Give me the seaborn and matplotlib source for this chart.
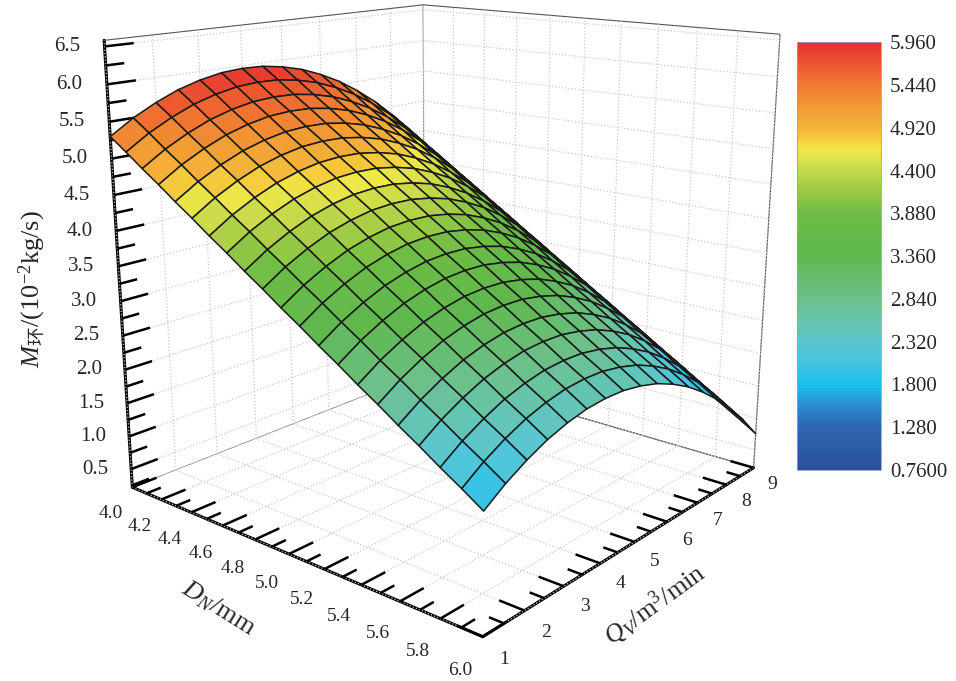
import numpy as np
import matplotlib
matplotlib.use("Agg")
import matplotlib.pyplot as plt
import seaborn as sns
from matplotlib.colors import LinearSegmentedColormap, Normalize
from matplotlib.ticker import FixedLocator, NullFormatter
from mpl_toolkits.mplot3d import proj3d

# --- data ---
d_n = [4.0, 4.1, 4.2, 4.3, 4.4, 4.5, 4.6, 4.7, 4.8, 4.9, 5.0,
       5.1, 5.2, 5.3, 5.4, 5.5, 5.6, 5.7, 5.8, 5.9, 6.0]
q_v = [1.0, 1.5, 2.0, 2.5, 3.0, 3.5, 4.0, 4.5, 5.0,
       5.5, 6.0, 6.5, 7.0, 7.5, 8.0, 8.5, 9.0]
# rows follow d_n, columns follow q_v
m_huan = [
    [5.30, 5.50, 5.66, 5.79, 5.88, 5.94, 5.96, 5.95, 5.90, 5.82, 5.70, 5.55, 5.36, 5.14, 4.88, 4.59, 4.26],
    [5.13, 5.33, 5.49, 5.62, 5.71, 5.77, 5.79, 5.78, 5.73, 5.65, 5.53, 5.38, 5.19, 4.97, 4.71, 4.42, 4.09],
    [4.95, 5.15, 5.31, 5.44, 5.53, 5.59, 5.61, 5.60, 5.55, 5.47, 5.35, 5.20, 5.01, 4.79, 4.53, 4.24, 3.91],
    [4.78, 4.98, 5.14, 5.27, 5.36, 5.42, 5.44, 5.43, 5.38, 5.30, 5.18, 5.03, 4.84, 4.62, 4.36, 4.07, 3.74],
    [4.60, 4.80, 4.96, 5.09, 5.18, 5.24, 5.26, 5.25, 5.20, 5.12, 5.00, 4.85, 4.66, 4.44, 4.18, 3.89, 3.56],
    [4.43, 4.63, 4.79, 4.92, 5.01, 5.07, 5.09, 5.08, 5.03, 4.95, 4.83, 4.68, 4.49, 4.27, 4.01, 3.72, 3.39],
    [4.25, 4.45, 4.61, 4.74, 4.83, 4.89, 4.91, 4.90, 4.85, 4.77, 4.65, 4.50, 4.31, 4.09, 3.83, 3.54, 3.21],
    [4.08, 4.28, 4.44, 4.57, 4.66, 4.72, 4.74, 4.73, 4.68, 4.60, 4.48, 4.33, 4.14, 3.92, 3.66, 3.37, 3.04],
    [3.90, 4.10, 4.26, 4.39, 4.48, 4.54, 4.56, 4.55, 4.50, 4.42, 4.30, 4.15, 3.96, 3.74, 3.48, 3.19, 2.86],
    [3.73, 3.93, 4.09, 4.22, 4.31, 4.37, 4.39, 4.38, 4.33, 4.25, 4.13, 3.98, 3.79, 3.57, 3.31, 3.02, 2.69],
    [3.55, 3.75, 3.91, 4.04, 4.13, 4.19, 4.21, 4.20, 4.15, 4.07, 3.95, 3.80, 3.61, 3.39, 3.13, 2.84, 2.51],
    [3.38, 3.58, 3.74, 3.87, 3.96, 4.02, 4.04, 4.03, 3.98, 3.90, 3.78, 3.63, 3.44, 3.22, 2.96, 2.67, 2.34],
    [3.20, 3.40, 3.56, 3.69, 3.78, 3.84, 3.86, 3.85, 3.80, 3.72, 3.60, 3.45, 3.26, 3.04, 2.78, 2.49, 2.16],
    [3.03, 3.23, 3.39, 3.52, 3.61, 3.67, 3.69, 3.68, 3.63, 3.55, 3.43, 3.28, 3.09, 2.87, 2.61, 2.32, 1.99],
    [2.85, 3.05, 3.21, 3.34, 3.43, 3.49, 3.51, 3.50, 3.45, 3.37, 3.25, 3.10, 2.91, 2.69, 2.43, 2.14, 1.81],
    [2.68, 2.88, 3.04, 3.17, 3.26, 3.32, 3.34, 3.33, 3.28, 3.20, 3.08, 2.93, 2.74, 2.52, 2.26, 1.97, 1.64],
    [2.50, 2.70, 2.86, 2.99, 3.08, 3.14, 3.16, 3.15, 3.10, 3.02, 2.90, 2.75, 2.56, 2.34, 2.08, 1.79, 1.46],
    [2.33, 2.53, 2.69, 2.82, 2.91, 2.97, 2.99, 2.98, 2.93, 2.85, 2.73, 2.58, 2.39, 2.17, 1.91, 1.62, 1.29],
    [2.15, 2.35, 2.51, 2.64, 2.73, 2.79, 2.81, 2.80, 2.75, 2.67, 2.55, 2.40, 2.21, 1.99, 1.73, 1.44, 1.11],
    [1.98, 2.18, 2.34, 2.47, 2.56, 2.62, 2.64, 2.63, 2.58, 2.50, 2.38, 2.23, 2.04, 1.82, 1.56, 1.27, 0.94],
    [1.80, 2.00, 2.16, 2.29, 2.38, 2.44, 2.46, 2.45, 2.40, 2.32, 2.20, 2.05, 1.86, 1.64, 1.38, 1.09, 0.76],
]

cbar_ticks = [0.76, 1.28, 1.80, 2.32, 2.84, 3.36, 3.88, 4.40, 4.92, 5.44, 5.96]
cbar_labels = ["0.7600", "1.280", "1.800", "2.320", "2.840", "3.360",
               "3.880", "4.400", "4.920", "5.440", "5.960"]
d_major = [4.0, 4.2, 4.4, 4.6, 4.8, 5.0, 5.2, 5.4, 5.6, 5.8, 6.0]
d_labels = ["4.0", "4.2", "4.4", "4.6", "4.8", "5.0", "5.2", "5.4", "5.6", "5.8", "6.0"]
q_major = [1, 2, 3, 4, 5, 6, 7, 8, 9]
q_labels = ["1", "2", "3", "4", "5", "6", "7", "8", "9"]
z_major = [0.5, 1.0, 1.5, 2.0, 2.5, 3.0, 3.5, 4.0, 4.5, 5.0, 5.5, 6.0, 6.5]
z_labels = ["0.5", "1.0", "1.5", "2.0", "2.5", "3.0", "3.5", "4.0", "4.5",
            "5.0", "5.5", "6.0", "6.5"]
z_minor = [0.25, 0.75, 1.25, 1.75, 2.25, 2.75, 3.25, 3.75, 4.25, 4.75, 5.25, 5.75, 6.25]
D_LIM, Q_LIM, Z_LIM = (4.0, 6.0), (1.0, 9.0), (0.22, 6.58)

# Origin style rainbow colour map
cmap = LinearSegmentedColormap.from_list("origin_rainbow", [
    (0.00, "#2b4f9e"), (0.10, "#2f66b0"), (0.15, "#2a8fd0"), (0.20, "#1cc0ee"),
    (0.25, "#45c4e0"), (0.30, "#5cc6cc"), (0.35, "#66c4ac"), (0.40, "#6cc08a"),
    (0.45, "#66bc6c"), (0.50, "#5fb84e"), (0.60, "#6cbc44"), (0.66, "#a0cc44"),
    (0.70, "#c4d84a"), (0.75, "#f0e848"), (0.78, "#f5c63a"), (0.80, "#f4b43a"),
    (0.85, "#f29a34"), (0.90, "#f07a32"), (0.95, "#ec5630"), (1.00, "#e83232"),
])
norm = Normalize(vmin=0.76, vmax=5.96)

sns.set_theme(style="white")
plt.rcParams["font.family"] = ["Liberation Serif", "Noto Sans CJK SC"]
plt.rcParams["mathtext.fontset"] = "custom"
plt.rcParams["mathtext.rm"] = "Liberation Serif"
plt.rcParams["mathtext.it"] = "Liberation Serif:italic"
plt.rcParams["mathtext.sf"] = "Noto Sans CJK SC"

W, H = 956, 681
fig = plt.figure(figsize=(W / 100, H / 100), dpi=100)
ax = fig.add_axes([-0.1079, 0.0278, 1.1310, 1.1310], projection="3d",
                  computed_zorder=False)
ax.set_proj_type("persp", focal_length=0.35)
ax.view_init(elev=15.6, azim=-49.75)
ax.set_box_aspect((1.0125, 1.0, 1.0))
ax.set_xlim(*D_LIM)
ax.set_ylim(*Q_LIM)
ax.set_zlim(*Z_LIM)

for axis, ticks in ((ax.xaxis, d_major), (ax.yaxis, q_major), (ax.zaxis, z_major)):
    axis.set_major_locator(FixedLocator(ticks))
    axis.set_major_formatter(NullFormatter())
    axis.set_pane_color((1, 1, 1, 1))
    axis.pane.set_edgecolor("#555555")
    axis.pane.set_linewidth(0.8)
    axis.line.set_color("black")
    axis.line.set_linewidth(2.2)
    axis._axinfo["tick"].update(inward_factor=0.0, outward_factor=0.0)
ax.zaxis.set_ticks_position("lower")
ax.grid(False)

# dotted grid on the floor and the two back walls
grid_kw = dict(color="#c8c8c8", linestyle=":", linewidth=0.9, zorder=1)
for d in d_major:
    ax.plot([d, d], Q_LIM, [Z_LIM[0]] * 2, **grid_kw)
    ax.plot([d, d], [Q_LIM[1]] * 2, Z_LIM, **grid_kw)
for q in q_major:
    ax.plot(D_LIM, [q, q], [Z_LIM[0]] * 2, **grid_kw)
    ax.plot([D_LIM[0]] * 2, [q, q], Z_LIM, **grid_kw)
for z in z_major:
    ax.plot([D_LIM[0]] * 2, Q_LIM, [z, z], **grid_kw)
    ax.plot(D_LIM, [Q_LIM[1]] * 2, [z, z], **grid_kw)

# inward ticks, long on labelled values, short in between
tick_kw = dict(color="black", linewidth=1.8, zorder=2, solid_capstyle="butt")
for d in d_n:
    ln = 0.55 if any(abs(d - m) < 1e-6 for m in d_major) else 0.32
    ax.plot([d, d], [Q_LIM[0], Q_LIM[0] + ln], [Z_LIM[0]] * 2, **tick_kw)
for q in q_v:
    ln = 0.12 if q in q_major else 0.07
    ax.plot([D_LIM[1], D_LIM[1] - ln], [q, q], [Z_LIM[0]] * 2, **tick_kw)
for z in z_major + z_minor:
    ln = 0.6 if z in z_major else 0.38
    ax.plot([D_LIM[0]] * 2, [Q_LIM[0], Q_LIM[0] + ln], [z, z], **tick_kw)

DD, QQ = np.meshgrid(d_n, q_v, indexing="ij")
ax.plot_surface(DD, QQ, np.array(m_huan), cmap=cmap, norm=norm,
                rstride=1, cstride=1, edgecolor="#1a1a1a", linewidth=1.1,
                shade=False, antialiased=True, zorder=3)

# tick labels: project an anchor just outside each axis to figure pixels
fig.canvas.draw()
proj = ax.get_proj()


def put_label(x, y, z, text, **kw):
    px, py, _ = proj3d.proj_transform(x, y, z, proj)
    sx, sy = ax.transData.transform((px, py))
    fig.text(sx / W, sy / H, text, **kw)


for d, lab in zip(d_major, d_labels):
    put_label(d, Q_LIM[0] - 0.5, Z_LIM[0] - 0.26, lab, fontsize=14,
              ha="center", va="center")
for q, lab in zip(q_major, q_labels):
    put_label(D_LIM[1] + 0.1, q, Z_LIM[0] - 0.17, lab, fontsize=14,
              ha="center", va="center")
for z, lab in zip(z_major, z_labels):
    put_label(D_LIM[0] - 0.075, Q_LIM[0] - 0.27, z, lab, fontsize=15,
              ha="right", va="center")

fig.text(0.228, 0.107, r"$D_N\mathrm{/mm}$", fontsize=19, rotation=-32,
         ha="center", va="center")
fig.text(0.685, 0.112, r"$Q_V\mathrm{/m^3/min}$", fontsize=19, rotation=36,
         ha="center", va="center")
fig.text(0.034, 0.575, r"$M_{\mathsf{环}}\mathrm{/(10^{-2}kg/s)}$", fontsize=19,
         rotation=90, ha="center", va="center")

cax = fig.add_axes([0.834, 0.31, 0.088, 0.628])
cb = fig.colorbar(plt.cm.ScalarMappable(norm=norm, cmap=cmap), cax=cax)
cb.set_ticks(cbar_ticks)
cb.set_ticklabels(cbar_labels)
cb.ax.tick_params(length=0, labelsize=15, pad=6)
cb.outline.set_edgecolor("#8ea2c8")
cb.outline.set_linewidth(0.6)

fig.savefig("out.png", dpi=100)
